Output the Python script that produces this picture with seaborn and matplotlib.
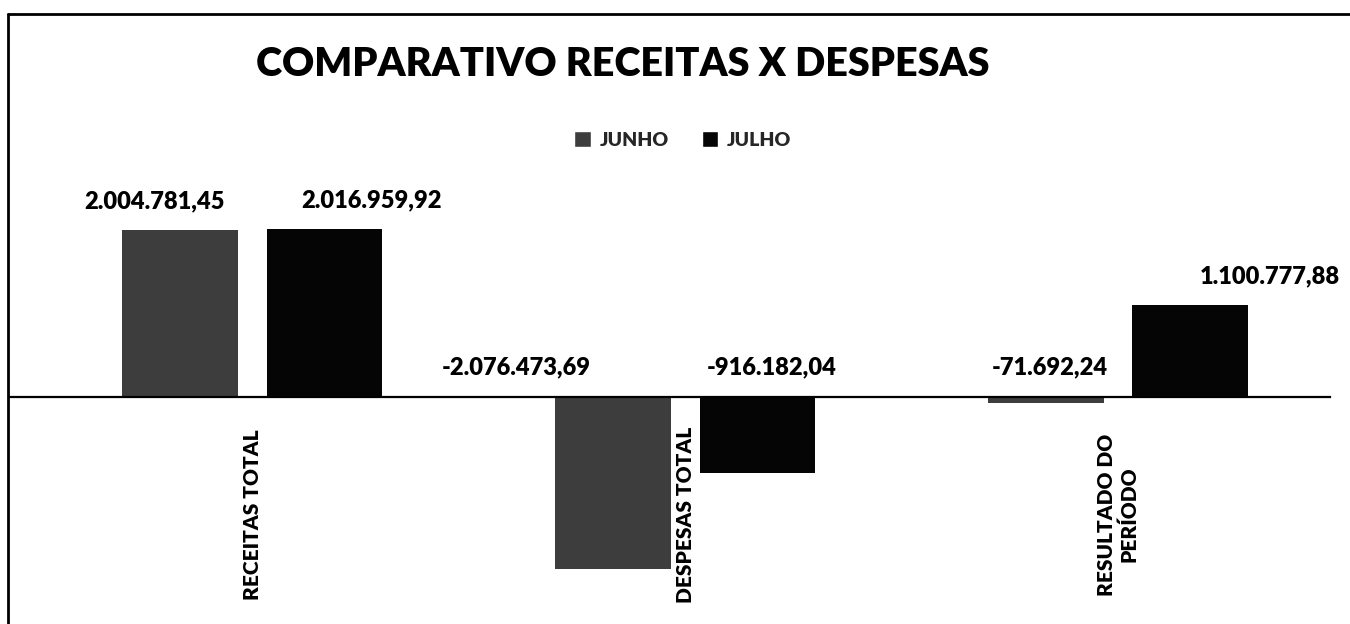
import pandas as pd
import matplotlib.pyplot as plt
import seaborn as sns
from matplotlib.lines import Line2D
from matplotlib.patches import Patch

# Data
categorias = ['RECEITAS TOTAL', 'DESPESAS TOTAL', 'RESULTADO DO\nPERÍODO']
meses = ['JUNHO', 'JULHO']
junho = [2004781.45, -2076473.69, -71692.24]
julho = [2016959.92, -916182.04, 1100777.88]

# Long table for seaborn
df = pd.DataFrame({
    'categoria': categorias * 2,
    'mes': ['JUNHO'] * 3 + ['JULHO'] * 3,
    'valor': junho + julho,
})

sns.set_theme(style='white')
plt.rcParams['font.family'] = ['Lato', 'DejaVu Sans']
plt.rcParams['font.weight'] = 'heavy'  # every text in the scan is heavy bold

cores = {'JUNHO': '#3d3d3d', 'JULHO': '#050505'}

fig = plt.figure(figsize=(13.5, 6.24), dpi=100)
ax = fig.add_axes([10 / 1350, 24 / 624, 1320 / 1350, 400 / 624])

sns.barplot(data=df, x='categoria', y='valor', hue='mes', hue_order=meses,
            palette=cores, width=0.667, gap=0.2, legend=False, ax=ax,
            edgecolor='none')

ax.set_xlim(-0.56, 2.49)
ax.set_ylim(-2.45e6, 2.37e6)

# axis at zero, no y axis
for s in ['left', 'right', 'top']:
    ax.spines[s].set_visible(False)
ax.spines['bottom'].set_position(('data', 0))
ax.spines['bottom'].set_color('black')
ax.spines['bottom'].set_linewidth(1.6)
ax.set_yticks([])
ax.set_xlabel('')
ax.set_ylabel('')
ax.tick_params(axis='x', length=0)
ax.set_xticks(ax.get_xticks(), labels=[''] * len(categorias))

# category names, rotated, centred in the band under the zero line
for x, nome in zip(ax.get_xticks(), categorias):
    ax.annotate(nome, xy=(x, 0), xytext=(0, -118), textcoords='offset pixels',
                rotation=90, ha='center', va='center', multialignment='center',
                fontsize=15, fontweight='heavy', color='black')

# data labels (Excel moved a few of them sideways)
desloc_x = [[-26, -97, 4], [47, 14, 80]]


def fmt(v):
    s = f'{v:,.2f}'
    return s.replace(',', 'X').replace('.', ',').replace('X', '.')


for i, (cont, valores) in enumerate(zip(ax.containers, [junho, julho])):
    for j, (barra, v) in enumerate(zip(cont, valores)):
        xc = barra.get_x() + barra.get_width() / 2
        ax.annotate(fmt(v), xy=(xc, max(v, 0)),
                    xytext=(desloc_x[i][j], 29), textcoords='offset pixels',
                    ha='center', va='center', fontsize=17, fontweight='heavy',
                    color='black')

# title and legend
fig.text(623 / 1350, 1 - 65 / 624, 'COMPARATIVO RECEITAS X DESPESAS',
         ha='center', va='center', fontsize=28.5, fontweight='heavy',
         color='black')
handles = [Patch(facecolor=cores[m], label=m) for m in meses]
leg = fig.legend(handles=handles, loc='center', ncol=2,
                 bbox_to_anchor=(683 / 1350, 1 - 140 / 624), frameon=False,
                 prop={'weight': 'heavy', 'size': 14}, handlelength=0.85,
                 handleheight=0.85, handletextpad=0.45, columnspacing=1.7)

# chart border (left and top edges visible in the scan)
fig.add_artist(Line2D([8 / 1350, 8 / 1350], [0, 1 - 14 / 624],
                      transform=fig.transFigure, color='black', lw=2))
fig.add_artist(Line2D([8 / 1350, 1], [1 - 14 / 624, 1 - 14 / 624],
                      transform=fig.transFigure, color='black', lw=2))

plt.savefig('out.png', dpi=100)
